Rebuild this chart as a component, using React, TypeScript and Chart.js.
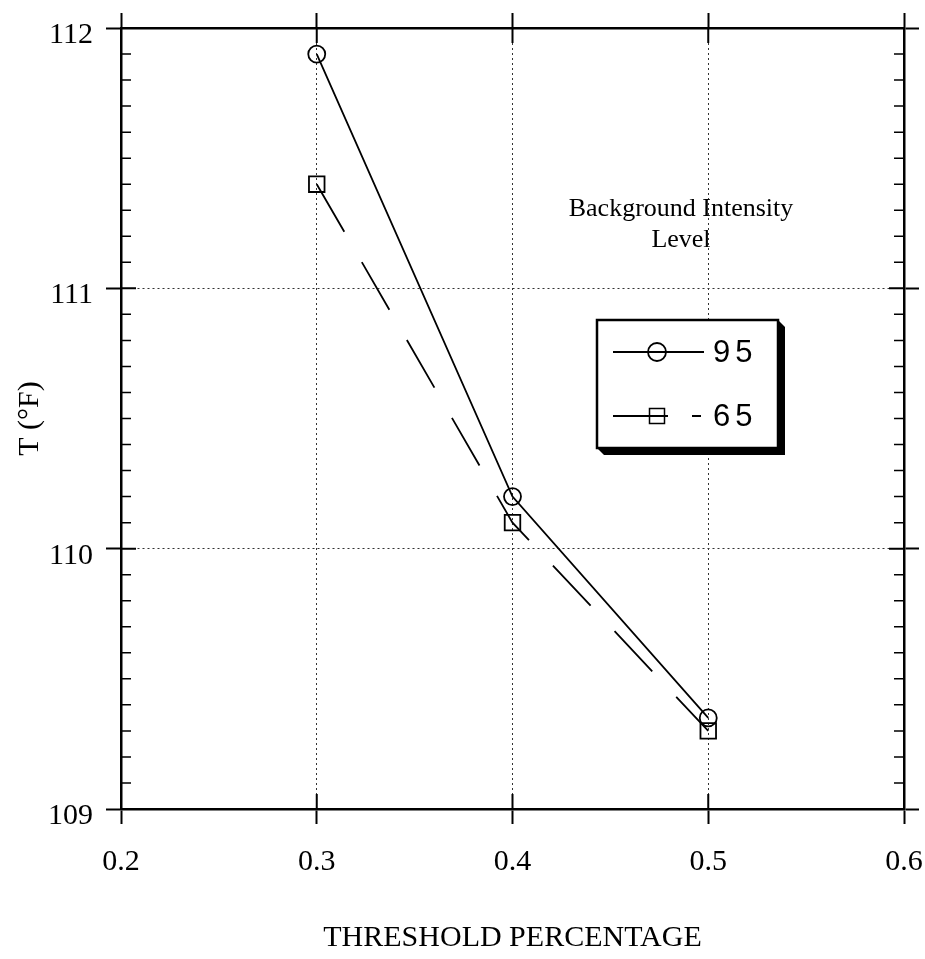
import React, { useEffect, useRef } from "react";
import { Chart, registerables } from "chart.js";

Chart.register(...registerables);

// ---- data ----
const xTickValues = [0.2, 0.3, 0.4, 0.5, 0.6];
const yTickValues = [109, 110, 111, 112];
const thresholds = [0.3, 0.4, 0.5];
const level95 = [111.9, 110.2, 109.35];
const level65 = [111.4, 110.1, 109.3];
const seriesLabels = ["95", "65"];
const xTitle = "THRESHOLD PERCENTAGE";
const yTitle = "T (°F)";
const noteLines = ["Background Intensity", "Level"];
const minorPerMajor = 10;

const SERIF = "'Liberation Serif', 'Times New Roman', serif";
const SANS = "'Liberation Sans', Arial, sans-serif";

const framePlugin = {
  id: "frame",
  afterDraw(chart: any) {
    const ctx = chart.ctx as CanvasRenderingContext2D;
    const { left, right, top, bottom } = chart.chartArea;
    const xs = chart.scales.x;
    const ys = chart.scales.y;
    ctx.save();
    ctx.strokeStyle = "#000";
    // inside major ticks
    ctx.lineWidth = 2;
    ctx.beginPath();
    yTickValues.forEach((v) => {
      const p = ys.getPixelForValue(v);
      ctx.moveTo(left, p);
      ctx.lineTo(left + 15, p);
      ctx.moveTo(right - 15, p);
      ctx.lineTo(right, p);
    });
    xTickValues.forEach((v) => {
      const p = xs.getPixelForValue(v);
      ctx.moveTo(p, top);
      ctx.lineTo(p, top + 15);
      ctx.moveTo(p, bottom - 15);
      ctx.lineTo(p, bottom);
    });
    ctx.stroke();
    // minor ticks on y axes
    ctx.lineWidth = 1.5;
    ctx.beginPath();
    for (let i = 0; i < yTickValues.length - 1; i++) {
      const step = (yTickValues[i + 1] - yTickValues[i]) / minorPerMajor;
      for (let k = 1; k < minorPerMajor; k++) {
        const p = ys.getPixelForValue(yTickValues[i] + k * step);
        ctx.moveTo(left, p);
        ctx.lineTo(left + 10, p);
        ctx.moveTo(right - 10, p);
        ctx.lineTo(right, p);
      }
    }
    ctx.stroke();

    // annotation text
    ctx.fillStyle = "#000";
    ctx.font = `26px ${SERIF}`;
    ctx.textAlign = "center";
    ctx.textBaseline = "middle";
    ctx.fillText(noteLines[0], 681, 209);
    ctx.fillText(noteLines[1], 681, 240);

    // legend box with shadow
    const bx1 = 597, by1 = 320, bx2 = 778, by2 = 448, sh = 7;
    ctx.beginPath();
    ctx.moveTo(bx2, by1);
    ctx.lineTo(bx2 + sh, by1 + sh);
    ctx.lineTo(bx2 + sh, by2 + sh);
    ctx.lineTo(bx1 + sh, by2 + sh);
    ctx.lineTo(bx1, by2);
    ctx.closePath();
    ctx.fillStyle = "#000";
    ctx.fill();
    ctx.fillStyle = "#fff";
    ctx.fillRect(bx1, by1, bx2 - bx1, by2 - by1);
    ctx.lineWidth = 2.5;
    ctx.strokeRect(bx1, by1, bx2 - bx1, by2 - by1);

    // legend row 1 (circle, solid)
    const r1 = 352, r2 = 416, cx = 657;
    ctx.lineWidth = 1.8;
    ctx.beginPath();
    ctx.moveTo(613, r1);
    ctx.lineTo(704, r1);
    ctx.stroke();
    ctx.beginPath();
    ctx.arc(cx, r1, 9, 0, Math.PI * 2);
    ctx.stroke();
    // legend row 2 (square, dashed)
    ctx.beginPath();
    ctx.moveTo(613, r2);
    ctx.lineTo(668, r2);
    ctx.moveTo(692, r2);
    ctx.lineTo(701, r2);
    ctx.stroke();
    ctx.lineWidth = 1.5;
    ctx.strokeRect(cx - 7.5, r2 - 7.5, 15, 15);

    ctx.font = `31px ${SANS}`;
    (ctx as any).letterSpacing = "5px";
    ctx.textAlign = "left";
    ctx.fillStyle = "#000";
    ctx.fillText(seriesLabels[0], 713, r1 + 1);
    ctx.fillText(seriesLabels[1], 713, r2 + 1);
    ctx.restore();
  },
};

export default function App() {
  const ref = useRef<HTMLCanvasElement | null>(null);

  useEffect(() => {
    if (!ref.current) return;
    const gridColor = (c: any) =>
      c.index > 0 && c.index < c.scale.ticks.length - 1 ? "#333" : "rgba(0,0,0,0)";
    const noPad = (s: any) => {
      s.paddingLeft = 0;
      s.paddingRight = 0;
      s.paddingTop = 0;
      s.paddingBottom = 0;
    };
    const chart = new Chart(ref.current, {
      type: "line",
      data: {
        datasets: [
          {
            label: seriesLabels[0],
            data: thresholds.map((x, i) => ({ x, y: level95[i] })),
            borderColor: "#000",
            borderWidth: 1.8,
            pointStyle: "circle",
            pointRadius: 8.5,
            pointBorderWidth: 1.8,
            pointBorderColor: "#000",
            pointBackgroundColor: "rgba(0,0,0,0)",
            tension: 0,
          },
          {
            label: seriesLabels[1],
            data: thresholds.map((x, i) => ({ x, y: level65[i] })),
            borderColor: "#000",
            borderWidth: 1.8,
            borderDash: [55, 35],
            pointStyle: "rect",
            pointRadius: 11,
            pointBorderWidth: 1.8,
            pointBorderColor: "#000",
            pointBackgroundColor: "rgba(0,0,0,0)",
            tension: 0,
          },
        ],
      },
      options: {
        animation: false,
        responsive: false,
        devicePixelRatio: 1,
        layout: { padding: 0 },
        plugins: { legend: { display: false }, tooltip: { enabled: false } },
        scales: {
          x: {
            type: "linear",
            position: "bottom",
            min: 0.2,
            max: 0.6,
            afterBuildTicks: (s: any) => {
              s.ticks = xTickValues.map((v) => ({ value: v }));
            },
            afterFit: (s: any) => {
              s.height = 150;
              noPad(s);
            },
            ticks: {
              font: { family: SERIF, size: 30 },
              color: "#000",
              padding: 20,
              callback: (v: any) => Number(v).toFixed(1),
            },
            grid: { color: gridColor, lineWidth: 1, tickLength: 15, tickColor: "#000", tickWidth: 2 },
            border: { display: true, color: "#000", width: 2.5, dash: [2, 3] },
            title: {
              display: true,
              text: xTitle,
              font: { family: SERIF, size: 30 },
              color: "#000",
              padding: { top: 0, bottom: 3 },
            },
          },
          x2: {
            type: "linear",
            position: "top",
            min: 0.2,
            max: 0.6,
            afterBuildTicks: (s: any) => {
              s.ticks = xTickValues.map((v) => ({ value: v }));
            },
            afterFit: (s: any) => {
              s.height = 28;
              noPad(s);
            },
            ticks: { display: false },
            grid: { drawOnChartArea: false, tickLength: 15, tickColor: "#000", tickWidth: 2 },
            border: { display: true, color: "#000", width: 2.5 },
          },
          y: {
            type: "linear",
            position: "left",
            min: 109,
            max: 112,
            afterBuildTicks: (s: any) => {
              s.ticks = yTickValues.map((v) => ({ value: v }));
            },
            afterFit: (s: any) => {
              s.width = 121;
              noPad(s);
            },
            ticks: {
              font: { family: SERIF, size: 30 },
              color: "#000",
              padding: 13,
              labelOffset: 7,
              callback: (v: any) => String(v),
            },
            grid: { color: gridColor, lineWidth: 1, tickLength: 15, tickColor: "#000", tickWidth: 2 },
            border: { display: true, color: "#000", width: 2.5, dash: [2, 3] },
            title: {
              display: true,
              text: yTitle,
              font: { family: SERIF, size: 30 },
              color: "#000",
              padding: { top: 12, bottom: 0 },
            },
          },
          y2: {
            type: "linear",
            position: "right",
            min: 109,
            max: 112,
            afterBuildTicks: (s: any) => {
              s.ticks = yTickValues.map((v) => ({ value: v }));
            },
            afterFit: (s: any) => {
              s.width = 21;
              noPad(s);
            },
            ticks: { display: false },
            grid: { drawOnChartArea: false, tickLength: 15, tickColor: "#000", tickWidth: 2 },
            border: { display: true, color: "#000", width: 2.5 },
          },
        },
      } as any,
      plugins: [framePlugin],
    });
    return () => chart.destroy();
  }, []);

  return (
    <div style={{ position: "fixed", left: 0, top: 0, width: 925, height: 959, background: "#fff" }}>
      <canvas ref={ref} width={925} height={959} style={{ display: "block", width: 925, height: 959 }} />
    </div>
  );
}
